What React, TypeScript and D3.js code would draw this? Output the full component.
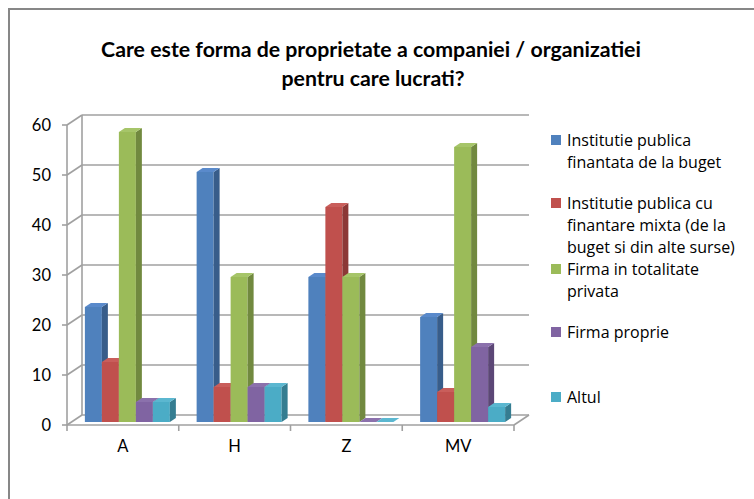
import React from 'react';
import * as d3 from 'd3';

const categories = ['A', 'H', 'Z', 'MV'];
const seriesNames = [
  ['Institutie publica', 'finantata de la buget'],
  ['Institutie publica cu', 'finantare mixta (de la', 'buget si din alte surse)'],
  ['Firma in totalitate', 'privata'],
  ['Firma proprie'],
  ['Altul'],
];
const institutieBuget = [23, 50, 29, 21];
const institutieMixta = [12, 7, 43, 6];
const firmaPrivata = [58, 29, 29, 55];
const firmaProprie = [4, 7, 0, 15];
const altul = [4, 7, 0, 3];
const yTicks = [0, 10, 20, 30, 40, 50, 60];

const series = [institutieBuget, institutieMixta, firmaPrivata, firmaProprie, altul];
const fronts = ['#4F81BD', '#C0504D', '#9BBB59', '#8064A2', '#4BACC6'];
const sides = ['#385D8A', '#8C3836', '#71893F', '#5C4776', '#357D91'];
const tops = ['#5A8ACB', '#C95E5B', '#A6C569', '#8B71AC', '#5BB7D0'];

const font = 'Lato, "Open Sans", sans-serif';
const legendFont = '"Open Sans", Lato, sans-serif';

export default function App() {
  const W = 754;
  const H = 499;
  const left = 67, right = 514, bottom = 425;
  const wallDx = 15, wallDy = 10;
  const barOx = 4.5, barOy = 3;
  const bDx = 6, bDy = 4;

  const y = d3.scaleLinear().domain([0, 60]).range([bottom, 125]);
  const x0 = d3.scaleBand<string>().domain(categories).range([left, right]);
  const x1 = d3.scaleBand<number>()
    .domain(series.map((_, i) => i))
    .range([0, x0.bandwidth()])
    .paddingOuter(0.787);

  const grid = '#a0a0a0';

  return (
    <svg width={W} height={H} style={{ position: 'absolute', left: 0, top: 0 }}>
      <rect x={9} y={9} width={800} height={600} fill="#fff" stroke="#878787" strokeWidth={2} />

      <text x={371} y={57} textAnchor="middle" fontFamily={font} fontWeight="bold" fontSize={21.3} fill="#000">
        Care este forma de proprietate a companiei / organizatiei
      </text>
      <text x={373} y={86} textAnchor="middle" fontFamily={font} fontWeight="bold" fontSize={21.3} fill="#000">
        pentru care lucrati?
      </text>

      {/* back wall and side wall grid */}
      {yTicks.map(t => (
        <g key={t}>
          <line x1={left + wallDx} x2={right + wallDx} y1={y(t) - wallDy} y2={y(t) - wallDy} stroke={grid} strokeWidth={1.6} />
          <line x1={left} x2={left + wallDx} y1={y(t)} y2={y(t) - wallDy} stroke={grid} strokeWidth={1.6} />
          <line x1={left - 5} x2={left} y1={y(t)} y2={y(t)} stroke={grid} strokeWidth={1.6} />
          <text x={51} y={y(t) + 6} textAnchor="end" fontFamily={font} fontSize={16.5} fill="#000">{t}</text>
        </g>
      ))}
      <line x1={left + wallDx} x2={left + wallDx} y1={y(60) - wallDy} y2={y(0) - wallDy} stroke={grid} strokeWidth={1.6} />
      <line x1={left} x2={left} y1={y(60)} y2={y(0)} stroke={grid} strokeWidth={1.6} />
      {/* floor */}
      <line x1={left} x2={right} y1={bottom} y2={bottom} stroke={grid} strokeWidth={1.6} />
      <line x1={right} x2={right + wallDx} y1={bottom} y2={bottom - wallDy} stroke={grid} strokeWidth={1.6} />
      {[...categories.map(c => x0(c) as number), right].map((v, i) => (
        <line key={i} x1={v} x2={v} y1={bottom} y2={bottom + 6} stroke={grid} strokeWidth={1.6} />
      ))}
      {categories.map(c => (
        <text key={c} x={(x0(c) as number) + x0.bandwidth() / 2} y={452} textAnchor="middle" fontFamily={font} fontSize={16.5} fill="#000">{c}</text>
      ))}

      {/* bars */}
      {categories.map((c, ci) => (
        <g key={c}>
          {series.map((s, si) => {
            const xa = (x0(c) as number) + (x1(si) as number) + barOx;
            const xb = xa + x1.bandwidth();
            const yt = y(s[ci]) - barOy;
            const yb = y(0) - barOy;
            return (
              <g key={si}>
                <rect x={xa} y={yt} width={xb - xa} height={yb - yt} fill={fronts[si]} />
                <polygon points={`${xb},${yt} ${xb + bDx},${yt - bDy} ${xb + bDx},${yb - bDy} ${xb},${yb}`} fill={sides[si]} />
                <polygon points={`${xa},${yt} ${xa + bDx},${yt - bDy} ${xb + bDx},${yt - bDy} ${xb},${yt}`} fill={tops[si]} />
              </g>
            );
          })}
        </g>
      ))}

      {/* legend */}
      {seriesNames.map((lines, i) => {
        const cy = [140, 203, 269, 332, 397][i];
        return (
          <g key={i}>
            <rect x={551} y={cy - 5} width={10} height={10} fill={fronts[i]} />
            {lines.map((ln, li) => (
              <text key={li} x={567} y={cy + 5.5 + li * 22} fontFamily={legendFont} fontSize={16} fill="#000">{ln}</text>
            ))}
          </g>
        );
      })}
    </svg>
  );
}
